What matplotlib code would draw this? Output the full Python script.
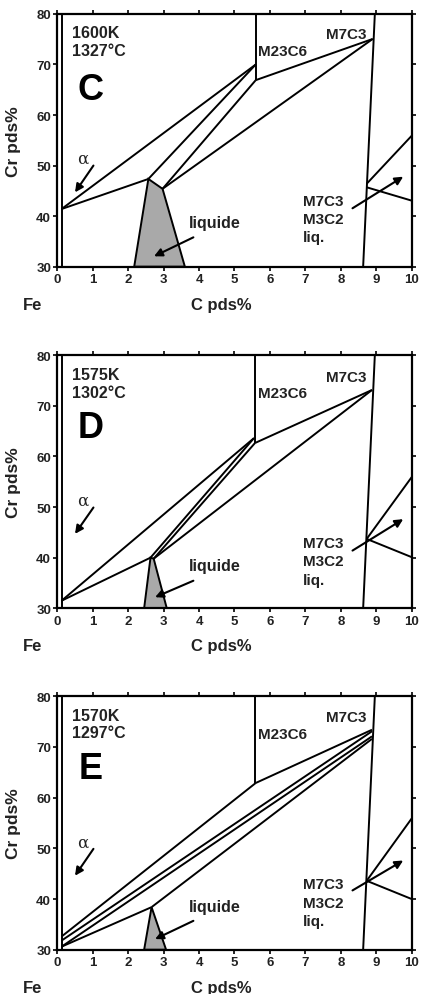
import matplotlib
matplotlib.use("Agg")
import matplotlib.pyplot as plt
from matplotlib.patches import Polygon

plt.rcParams['font.family'] = ['Liberation Sans', 'DejaVu Sans']
plt.rcParams['font.weight'] = 'bold'

# ---------------- data ----------------
panel_letters = ['C', 'D', 'E']
temps_K = ['1600K', '1575K', '1570K']
temps_C = ['1327°C', '1302°C', '1297°C']

x_ticks = [0, 1, 2, 3, 4, 5, 6, 7, 8, 9, 10]
y_ticks = [30, 40, 50, 60, 70, 80]

# liquid (grey) region polygons
liq_C_x = [2.17, 2.57, 2.97, 3.60]
liq_C_y = [30.0, 47.35, 45.4, 30.0]
liq_D_x = [2.45, 2.63, 2.72, 3.09]
liq_D_y = [30.0, 40.0, 39.8, 30.0]
liq_E_x = [2.45, 2.66, 3.07]
liq_E_y = [30.0, 38.4, 30.0]

# phase boundary segments ((x1, y1), (x2, y2))
segs_common = [
    ((0.12, 30.0), (0.12, 80.0)),     # Fe-side boundary
    ((8.63, 30.0), (8.96, 80.0)),     # M7C3 boundary
]
segs_C = [
    ((0.12, 41.4), (5.60, 70.0)),
    ((0.12, 41.4), (2.57, 47.35)),
    ((2.57, 47.35), (5.60, 70.0)),
    ((2.97, 45.4), (5.60, 66.9)),
    ((2.97, 45.4), (8.90, 75.05)),
    ((5.60, 66.9), (8.90, 75.05)),
    ((5.61, 66.9), (5.61, 80.0)),
    ((8.73, 46.4), (10.0, 55.9)),
    ((8.73, 45.7), (10.0, 43.06)),
]
segs_D = [
    ((0.12, 31.5), (5.55, 63.6)),
    ((0.12, 31.5), (2.63, 40.0)),
    ((2.63, 40.0), (5.55, 63.6)),
    ((2.72, 39.8), (5.60, 62.8)),
    ((2.72, 39.8), (8.88, 73.1)),
    ((5.60, 62.7), (8.88, 73.1)),
    ((5.59, 62.7), (5.59, 80.0)),
    ((8.73, 43.7), (10.0, 55.9)),
    ((8.73, 43.7), (10.0, 40.1)),
]
segs_E = [
    ((0.12, 32.6), (5.60, 62.9)),
    ((0.12, 31.8), (8.88, 73.1)),
    ((0.12, 30.6), (8.88, 72.1)),
    ((0.12, 30.6), (2.66, 38.4)),
    ((2.66, 38.4), (8.88, 71.6)),
    ((5.60, 62.9), (8.88, 73.4)),
    ((5.59, 62.9), (5.59, 80.0)),
    ((8.73, 43.6), (10.0, 55.9)),
    ((8.73, 43.6), (10.0, 40.0)),
]

liq_x = [liq_C_x, liq_D_x, liq_E_x]
liq_y = [liq_C_y, liq_D_y, liq_E_y]
segs = [segs_C, segs_D, segs_E]

# label y-positions (per panel)
temp_y = [(76.4, 72.7), (76.25, 72.6), (76.2, 72.8)]
letter_y = [65.0, 65.7, 65.7]
m23_y = [72.6, 72.5, 72.6]
m7_y = [76.0, 75.6, 75.9]
alpha_y = [51.45, 51.4, 51.3]
alpha_arrow = [((1.02, 50.0), (0.50, 44.7)), ((1.02, 49.9), (0.50, 44.7)), ((1.02, 49.9), (0.50, 44.6))]
liq_label_y = [38.65, 38.4, 38.6]
liq_arrow = [((3.84, 35.8), (2.73, 32.05)), ((3.84, 35.45), (2.76, 32.2)), ((3.84, 35.7), (2.76, 32.1))]
three_y = [(43.06, 39.4, 35.8), (42.9, 39.3, 35.65), (42.9, 39.3, 35.7)]
three_arrow = [((8.33, 41.55), (9.76, 47.8)), ((8.33, 41.4), (9.76, 47.6)), ((8.33, 41.7), (9.76, 47.6))]

rects = [
    [0.1348, 0.7310, 0.8339, 0.2540],
    [0.1348, 0.3876, 0.8339, 0.2546],
    [0.1348, 0.0445, 0.8339, 0.2547],
]

fig = plt.figure(figsize=(4.25, 9.95), dpi=100)
LW = 1.4
TXT = '#222222'

for i in range(3):
    ax = fig.add_axes(rects[i])
    ax.set_xlim(0, 10)
    ax.set_ylim(30, 80)
    ax.set_xticks(x_ticks)
    ax.set_yticks(y_ticks)
    ax.set_xticklabels([str(v) for v in x_ticks], fontsize=9.5, fontweight='bold', color=TXT)
    ax.set_yticklabels([str(v) for v in y_ticks], fontsize=9.5, fontweight='bold', color=TXT)
    ax.tick_params(direction='out', length=3, width=1.2, top=True, right=True, pad=1.5)
    for sp in ax.spines.values():
        sp.set_linewidth(1.6)

    poly = Polygon(list(zip(liq_x[i], liq_y[i])), closed=True, facecolor='#a9a9a9',
                   edgecolor='black', linewidth=LW, zorder=2)
    ax.add_patch(poly)

    for (p1, p2) in segs_common + segs[i]:
        ax.plot([p1[0], p2[0]], [p1[1], p2[1]], color='black', lw=LW, solid_capstyle='butt', zorder=3)

    ax.set_ylabel('Cr pds%', fontsize=12.5, fontweight='bold', color=TXT)
    ax.yaxis.set_label_coords(-0.102, 0.5)

    ax.text(-0.97, 22.6, 'Fe', fontsize=12, fontweight='bold', ha='left', va='center', clip_on=False, color=TXT)
    ax.text(4.62, 22.6, 'C pds%', fontsize=12, fontweight='bold', ha='center', va='center', clip_on=False, color=TXT)

    ax.text(0.41, temp_y[i][0], temps_K[i], fontsize=11.5, fontweight='bold', ha='left', va='center', color=TXT)
    ax.text(0.41, temp_y[i][1], temps_C[i], fontsize=11.5, fontweight='bold', ha='left', va='center', color=TXT)
    ax.text(0.95, letter_y[i], panel_letters[i], fontsize=26, fontweight='bold', ha='center', va='center', color='black')

    ax.text(5.67, m23_y[i], 'M23C6', fontsize=11, fontweight='bold', ha='left', va='center', color=TXT)
    ax.text(8.73, m7_y[i], 'M7C3', fontsize=11, fontweight='bold', ha='right', va='center', color=TXT)

    ax.text(0.73, alpha_y[i], 'α', fontsize=12, fontweight='normal', family='DejaVu Serif',
            ha='center', va='center', color=TXT)
    ax.annotate('', xy=alpha_arrow[i][1], xytext=alpha_arrow[i][0],
                arrowprops=dict(arrowstyle='-|>', lw=1.5, color='black', mutation_scale=12, shrinkA=0, shrinkB=0))

    ax.text(4.43, liq_label_y[i], 'liquide', fontsize=11.5, fontweight='bold', ha='center', va='center', color=TXT)
    ax.annotate('', xy=liq_arrow[i][1], xytext=liq_arrow[i][0],
                arrowprops=dict(arrowstyle='-|>', lw=1.5, color='black', mutation_scale=12, shrinkA=0, shrinkB=0),
                zorder=4)

    for txt, yy in zip(['M7C3', 'M3C2', 'liq.'], three_y[i]):
        ax.text(6.94, yy, txt, fontsize=11, fontweight='bold', ha='left', va='center', color=TXT)
    ax.annotate('', xy=three_arrow[i][1], xytext=three_arrow[i][0],
                arrowprops=dict(arrowstyle='-|>', lw=1.5, color='black', mutation_scale=12, shrinkA=0, shrinkB=0))

fig.savefig('out.png', dpi=100)
